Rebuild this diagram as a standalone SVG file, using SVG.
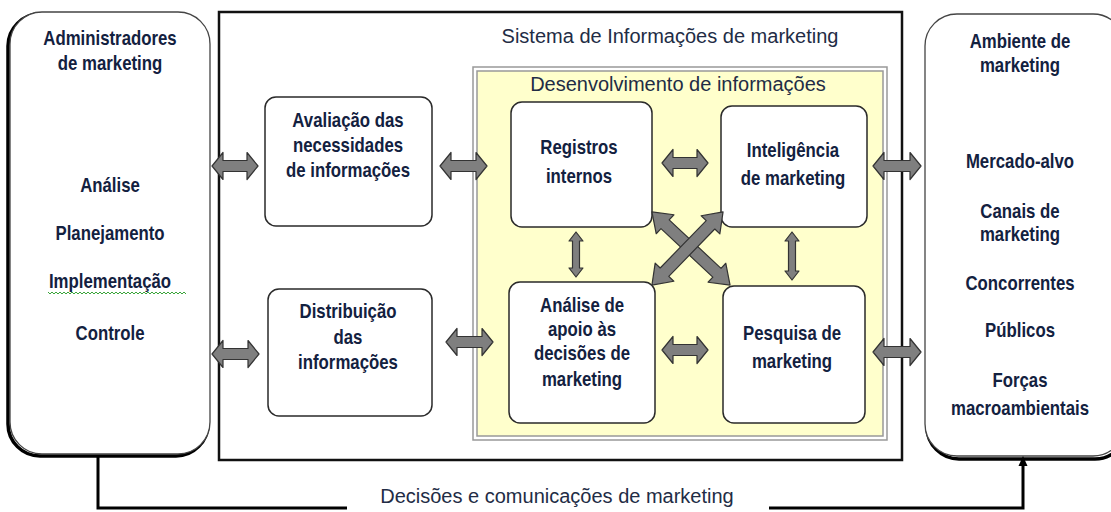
<svg xmlns="http://www.w3.org/2000/svg" width="1111" height="512" viewBox="0 0 1111 512">
<style>
.b{font-family:"Liberation Sans",Arial,sans-serif;font-weight:bold;font-size:20px;fill:#13213f;text-anchor:middle}
.t{font-family:"Liberation Sans",Arial,sans-serif;font-size:20px;fill:#222c45;text-anchor:middle}
.box{fill:#fff;stroke:#2a2a2a;stroke-width:1.5}
.arr{fill:#7f7f7f;stroke:#333;stroke-width:1.2;stroke-linejoin:round}
.conn{fill:none;stroke:#000;stroke-width:3}
</style>
<rect width="1111" height="512" fill="#fff"/>

<g id="admin">
<rect x="8" y="14" width="200" height="442" rx="32" fill="none" stroke="#000" stroke-width="3.5"/>
<rect x="10" y="12" width="200" height="442" rx="32" fill="#fff" stroke="#444" stroke-width="1.3"/>
<text class="b" transform="translate(110,45) scale(0.84,1)">Administradores</text>
<text class="b" transform="translate(110,70) scale(0.84,1)">de marketing</text>
<text class="b" transform="translate(110,192) scale(0.84,1)">Análise</text>
<text class="b" transform="translate(110,240) scale(0.84,1)">Planejamento</text>
<text class="b" transform="translate(110,288) scale(0.84,1)">Implementação</text>
<path d="M48,292 l2,2 l2,-2 l2,2 l2,-2 l2,2 l2,-2 l2,2 l2,-2 l2,2 l2,-2 l2,2 l2,-2 l2,2 l2,-2 l2,2 l2,-2 l2,2 l2,-2 l2,2 l2,-2 l2,2 l2,-2 l2,2 l2,-2 l2,2 l2,-2 l2,2 l2,-2 l2,2 l2,-2 l2,2 l2,-2 l2,2 l2,-2 l2,2 l2,-2 l2,2 l2,-2 l2,2 l2,-2 l2,2 l2,-2 l2,2 l2,-2 l2,2 l2,-2 l2,2 l2,-2 l2,2 l2,-2 l2,2 l2,-2 l2,2 l2,-2 l2,2 l2,-2 l2,2 l2,-2 l2,2 l2,-2 l2,2 l2,-2 l2,2 l2,-2 l2,2 l2,-2 l2,2 l2,-2 l2,2" fill="none" stroke="#3aa53a" stroke-width="1"/>
<text class="b" transform="translate(110,340) scale(0.84,1)">Controle</text>
</g>

<g id="sistema">
<rect x="219" y="12" width="683" height="448" fill="#fff" stroke="#111" stroke-width="2.5"/>
<text class="t" x="670" y="43">Sistema de Informações de marketing</text>
</g>

<g id="desenvolvimento">
<rect x="473" y="67" width="414" height="373" fill="#fff" stroke="#999" stroke-width="1.5"/>
<rect x="477" y="71" width="406" height="365" fill="#ffffcc" stroke="#999" stroke-width="1.5"/>
<text class="t" x="678" y="91" font-size="18.5">Desenvolvimento de informações</text>
</g>

<g id="ambiente">
<rect x="927" y="17" width="200" height="442" rx="32" fill="none" stroke="#000" stroke-width="3.5"/>
<rect x="925" y="14" width="200" height="442" rx="32" fill="#fff" stroke="#444" stroke-width="1.3"/>
<text class="b" transform="translate(1020,48) scale(0.84,1)">Ambiente de</text>
<text class="b" transform="translate(1020,72) scale(0.84,1)">marketing</text>
<text class="b" transform="translate(1020,168) scale(0.84,1)">Mercado-alvo</text>
<text class="b" transform="translate(1020,218) scale(0.84,1)">Canais de</text>
<text class="b" transform="translate(1020,241) scale(0.84,1)">marketing</text>
<text class="b" transform="translate(1020,290) scale(0.84,1)">Concorrentes</text>
<text class="b" transform="translate(1020,337) scale(0.84,1)">Públicos</text>
<text class="b" transform="translate(1020,387) scale(0.84,1)">Forças</text>
<text class="b" transform="translate(1020,415) scale(0.84,1)">macroambientais</text>
</g>

<g id="avaliacao">
<rect class="box" x="265" y="97" width="167" height="129" rx="11"/>
<text class="b" transform="translate(348,127) scale(0.84,1)">Avaliação das</text>
<text class="b" transform="translate(348,152) scale(0.84,1)">necessidades</text>
<text class="b" transform="translate(348,177) scale(0.84,1)">de informações</text>
</g>

<g id="distribuicao">
<rect class="box" x="268" y="289" width="164" height="127" rx="11"/>
<text class="b" transform="translate(348,318) scale(0.84,1)">Distribuição</text>
<text class="b" transform="translate(348,344) scale(0.84,1)">das</text>
<text class="b" transform="translate(348,369) scale(0.84,1)">informações</text>
</g>

<g id="registros">
<rect class="box" x="511" y="102" width="141" height="125" rx="11"/>
<text class="b" transform="translate(579,154) scale(0.84,1)">Registros</text>
<text class="b" transform="translate(579,183) scale(0.84,1)">internos</text>
</g>

<g id="inteligencia">
<rect class="box" x="721" y="106" width="146" height="121" rx="11"/>
<text class="b" transform="translate(793,157) scale(0.84,1)">Inteligência</text>
<text class="b" transform="translate(793,185) scale(0.84,1)">de marketing</text>
</g>

<g id="analise">
<rect class="box" x="509" y="282" width="146" height="141" rx="11"/>
<text class="b" transform="translate(582,312) scale(0.84,1)">Análise de</text>
<text class="b" transform="translate(582,336) scale(0.84,1)">apoio às</text>
<text class="b" transform="translate(582,360) scale(0.84,1)">decisões de</text>
<text class="b" transform="translate(582,386) scale(0.84,1)">marketing</text>
</g>

<g id="pesquisa">
<rect class="box" x="723" y="286" width="142" height="137" rx="11"/>
<text class="b" transform="translate(792,340) scale(0.84,1)">Pesquisa de</text>
<text class="b" transform="translate(792,368) scale(0.84,1)">marketing</text>
</g>

<g id="connectors">
<path class="arr" d="M212,166 L223,152.5 L223,160.5 L247,160.5 L247,152.5 L258,166 L247,179.5 L247,171.5 L223,171.5 L223,179.5 Z"/>
<path class="arr" d="M440,166 L451,152.5 L451,160.5 L476,160.5 L476,152.5 L487,166 L476,179.5 L476,171.5 L451,171.5 L451,179.5 Z"/>
<path class="arr" d="M212,354 L223,340.5 L223,348.5 L248,348.5 L248,340.5 L259,354 L248,367.5 L248,359.5 L223,359.5 L223,367.5 Z"/>
<path class="arr" d="M446,342 L457,328.5 L457,336.5 L482,336.5 L482,328.5 L493,342 L482,355.5 L482,347.5 L457,347.5 L457,355.5 Z"/>
<path class="arr" d="M662,163 L673,149.5 L673,157.5 L697,157.5 L697,149.5 L708,163 L697,176.5 L697,168.5 L673,168.5 L673,176.5 Z"/>
<path class="arr" d="M662,350 L673,336.5 L673,344.5 L697,344.5 L697,336.5 L708,350 L697,363.5 L697,355.5 L673,355.5 L673,363.5 Z"/>
<path class="arr" d="M873,166 L884,152.5 L884,160.5 L910,160.5 L910,152.5 L921,166 L910,179.5 L910,171.5 L884,171.5 L884,179.5 Z"/>
<path class="arr" d="M873,352 L884,338.5 L884,346.5 L910,346.5 L910,338.5 L921,352 L910,365.5 L910,357.5 L884,357.5 L884,365.5 Z"/>
<path class="arr" d="M576,232 L583,241 L579.5,241 L579.5,268 L583,268 L576,277 L569,268 L572.5,268 L572.5,241 L569,241 Z"/>
<path class="arr" d="M792,232 L799,241 L795.5,241 L795.5,271 L799,271 L792,280 L785,271 L788.5,271 L788.5,241 L785,241 Z"/>
<path class="arr" transform="translate(691,248.5) rotate(43.1)" d="M-53.5,0 L-35.5,-13 L-35.5,-6 L35.5,-6 L35.5,-13 L53.5,0 L35.5,13 L35.5,6 L-35.5,6 L-35.5,13 Z"/>
<path class="arr" transform="translate(687.5,248.5) rotate(-45.8)" d="M-51,0 L-33,-13 L-33,-6 L33,-6 L33,-13 L51,0 L33,13 L33,6 L-33,6 L-33,13 Z"/>
<path class="conn" d="M98,455 V508 H347"/>
<path class="conn" d="M769,508 H1023 V463"/>
<polygon points="1023,456 1018.5,466 1027.5,466" fill="#000"/>
</g>
<text class="t" x="557" y="503">Decisões e comunicações de marketing</text>
</svg>
